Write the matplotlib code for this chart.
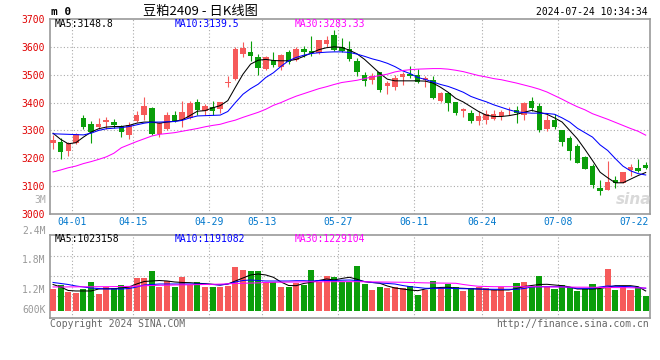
import numpy as np
import matplotlib
matplotlib.use("Agg")
import matplotlib.pyplot as plt
import matplotlib.transforms as mtransforms

# trading days shown on the chart
dates = ['03-28', '03-29',
         '04-01', '04-02', '04-03', '04-08', '04-09', '04-10', '04-11', '04-12',
         '04-15', '04-16', '04-17', '04-18', '04-19', '04-22', '04-23', '04-24', '04-25', '04-26',
         '04-29', '04-30',
         '05-06', '05-07', '05-08', '05-09', '05-10',
         '05-13', '05-14', '05-15', '05-16', '05-17',
         '05-20', '05-21', '05-22', '05-23', '05-24',
         '05-27', '05-28', '05-29', '05-30', '05-31',
         '06-03', '06-04', '06-05', '06-06', '06-07',
         '06-11', '06-12', '06-13', '06-14',
         '06-17', '06-18', '06-19', '06-20', '06-21',
         '06-24', '06-25', '06-26', '06-27', '06-28',
         '07-01', '07-02', '07-03', '07-04', '07-05',
         '07-08', '07-09', '07-10', '07-11', '07-12',
         '07-15', '07-16', '07-17', '07-18', '07-19',
         '07-22', '07-23', '07-24']
tick_labels = ['04-01', '04-15', '04-29', '05-13', '05-27', '06-11', '06-24', '07-08', '07-22']

opens = [3255, 3258, 3226, 3256, 3345, 3324, 3314, 3331, 3332, 3317,
         3282, 3333, 3354, 3381, 3286, 3306, 3354, 3336, 3345, 3401,
         3371, 3383, 3377, 3470, 3485, 3574, 3582, 3564, 3520, 3552,
         3526, 3582, 3552, 3592, 3586, 3577, 3612, 3643, 3598, 3592,
         3550, 3499, 3481, 3508, 3461, 3455, 3491, 3502, 3500, 3481,
         3481, 3405, 3433, 3401, 3369, 3362, 3333, 3336, 3342, 3350,
         3368, 3374, 3354, 3405, 3389, 3306, 3338, 3300, 3273, 3243,
         3205, 3171, 3094, 3086, 3121, 3112, 3157, 3166, 3175]
highs = [3282, 3274, 3258, 3290, 3357, 3333, 3345, 3348, 3340, 3321,
         3330, 3371, 3421, 3385, 3330, 3366, 3369, 3405, 3405, 3412,
         3395, 3407, 3401, 3496, 3598, 3616, 3621, 3576, 3568, 3580,
         3574, 3588, 3600, 3604, 3639, 3625, 3639, 3660, 3631, 3621,
         3560, 3508, 3505, 3508, 3479, 3500, 3508, 3532, 3520, 3496,
         3496, 3437, 3437, 3401, 3381, 3374, 3371, 3374, 3374, 3374,
         3383, 3389, 3401, 3421, 3398, 3354, 3360, 3300, 3279, 3252,
         3207, 3181, 3121, 3189, 3136, 3151, 3181, 3199, 3187]
lows = [3235, 3199, 3207, 3252, 3306, 3255, 3306, 3306, 3310, 3276,
        3270, 3330, 3336, 3282, 3276, 3300, 3330, 3314, 3340, 3354,
        3354, 3354, 3362, 3455, 3481, 3562, 3550, 3500, 3517, 3529,
        3517, 3540, 3550, 3564, 3568, 3574, 3598, 3586, 3580, 3550,
        3496, 3461, 3467, 3437, 3431, 3445, 3464, 3488, 3469, 3455,
        3413, 3401, 3371, 3354, 3350, 3326, 3321, 3324, 3336, 3338,
        3354, 3326, 3338, 3371, 3294, 3298, 3306, 3243, 3195, 3183,
        3160, 3092, 3068, 3086, 3092, 3112, 3136, 3151, 3160]
closes = [3267, 3223, 3255, 3288, 3314, 3294, 3324, 3338, 3318, 3294,
          3321, 3357, 3386, 3288, 3326, 3354, 3333, 3366, 3400, 3374,
          3389, 3371, 3401, 3475, 3594, 3595, 3568, 3523, 3562, 3536,
          3570, 3544, 3594, 3583, 3579, 3625, 3625, 3588, 3586, 3558,
          3508, 3479, 3496, 3446, 3469, 3488, 3502, 3496, 3473, 3487,
          3416, 3433, 3398, 3362, 3377, 3333, 3350, 3360, 3360, 3366,
          3371, 3362, 3398, 3381, 3302, 3338, 3312, 3258, 3226, 3183,
          3163, 3104, 3083, 3116, 3112, 3151, 3167, 3155, 3166]

ma5 = [3290, 3268, 3252, 3256, 3276, 3294, 3306, 3312, 3314, 3314,
       3318, 3326, 3330, 3330, 3326, 3330, 3333, 3338, 3353, 3369,
       3371, 3381, 3389, 3407, 3455, 3502, 3538, 3552, 3555, 3551,
       3550, 3550, 3555, 3566, 3578, 3590, 3597, 3600, 3598, 3588,
       3575, 3555, 3530, 3505, 3484, 3478, 3478, 3478, 3478, 3477,
       3470, 3455, 3437, 3415, 3402, 3385, 3368, 3355, 3350, 3350,
       3353, 3358, 3365, 3372, 3365, 3358, 3345, 3330, 3300, 3270,
       3232, 3192, 3150, 3130, 3112, 3112, 3125, 3138, 3149]
ma10 = [3288, 3287, 3286, 3285, 3284, 3290, 3300, 3306, 3308, 3310,
        3314, 3320, 3326, 3330, 3330, 3331, 3332, 3336, 3345, 3352,
        3353, 3354, 3355, 3368, 3400, 3430, 3450, 3466, 3490, 3507,
        3530, 3550, 3562, 3570, 3576, 3579, 3581, 3582, 3582, 3580,
        3574, 3566, 3557, 3550, 3541, 3529, 3514, 3504, 3490, 3483,
        3474, 3465, 3458, 3448, 3437, 3422, 3412, 3403, 3392, 3383,
        3374, 3367, 3364, 3362, 3362, 3361, 3358, 3345, 3330, 3308,
        3292, 3276, 3248, 3228, 3199, 3172, 3155, 3145, 3140]
ma30 = [3151, 3158, 3166, 3172, 3181, 3188, 3196, 3205, 3218, 3238,
        3249, 3260, 3270, 3280, 3286, 3289, 3292, 3297, 3302, 3307,
        3313, 3318, 3322, 3330, 3337, 3347, 3356, 3365, 3376, 3390,
        3400, 3412, 3423, 3432, 3441, 3450, 3457, 3465, 3472, 3476,
        3480, 3486, 3492, 3497, 3502, 3510, 3515, 3518, 3520, 3521,
        3522, 3522, 3520, 3516, 3511, 3504, 3497, 3492, 3486, 3482,
        3476, 3470, 3463, 3456, 3448, 3438, 3425, 3412, 3398, 3385,
        3374, 3360, 3350, 3340, 3329, 3318, 3307, 3297, 3283]

# volume, thousand lots
volume = [1220, 1301, 1166, 1145, 1220, 1362, 1119, 1267, 1240, 1301,
          1281, 1443, 1443, 1585, 1261, 1382, 1261, 1463, 1301, 1362,
          1261, 1261, 1261, 1281, 1666, 1605, 1585, 1585, 1362, 1362,
          1261, 1261, 1342, 1301, 1605, 1362, 1483, 1463, 1362, 1362,
          1692, 1321, 1200, 1261, 1240, 1261, 1240, 1281, 1099, 1200,
          1382, 1240, 1321, 1261, 1180, 1240, 1261, 1240, 1200, 1261,
          1160, 1342, 1362, 1261, 1483, 1261, 1220, 1301, 1261, 1180,
          1220, 1321, 1220, 1625, 1200, 1261, 1200, 1261, 1079]
vol_ma5 = [1311, 1261, 1190, 1180, 1180, 1180, 1220, 1226, 1226, 1240,
           1261, 1321, 1372, 1382, 1392, 1382, 1362, 1352, 1348, 1336,
           1328, 1315, 1301, 1321, 1382, 1443, 1504, 1524, 1504, 1457,
           1362, 1291, 1287, 1332, 1356, 1392, 1423, 1402, 1433, 1457,
           1417, 1368, 1352, 1336, 1281, 1240, 1220, 1200, 1186, 1220,
           1240, 1251, 1255, 1240, 1234, 1226, 1220, 1210, 1200, 1200,
           1200, 1230, 1271, 1291, 1311, 1315, 1301, 1287, 1261, 1220,
           1220, 1220, 1230, 1255, 1287, 1287, 1287, 1267, 1180]
vol_ma10 = [1352, 1332, 1311, 1281, 1261, 1240, 1230, 1220, 1220, 1220,
            1230, 1261, 1301, 1311, 1321, 1321, 1321, 1321, 1321, 1321,
            1321, 1311, 1301, 1321, 1362, 1392, 1402, 1392, 1382, 1382,
            1382, 1382, 1388, 1388, 1382, 1392, 1392, 1392, 1398, 1402,
            1392, 1372, 1352, 1342, 1332, 1321, 1291, 1267, 1251, 1234,
            1234, 1234, 1234, 1230, 1226, 1224, 1220, 1216, 1214, 1214,
            1214, 1214, 1230, 1261, 1267, 1267, 1267, 1267, 1251, 1234,
            1234, 1234, 1261, 1281, 1275, 1271, 1267, 1251, 1234]
vol_ma30 = [1261, 1261, 1263, 1263, 1265, 1265, 1267, 1267, 1269, 1271,
            1273, 1279, 1285, 1291, 1295, 1297, 1301, 1303, 1305, 1309,
            1311, 1315, 1319, 1325, 1331, 1336, 1340, 1344, 1352, 1356,
            1358, 1360, 1362, 1364, 1366, 1366, 1366, 1368, 1368, 1368,
            1368, 1366, 1364, 1362, 1360, 1358, 1356, 1352, 1348, 1344,
            1342, 1340, 1338, 1336, 1311, 1291, 1275, 1271, 1267, 1267,
            1267, 1267, 1267, 1265, 1265, 1263, 1261, 1261, 1259, 1257,
            1257, 1255, 1253, 1251, 1249, 1247, 1245, 1242, 1240]

price_ticks = [3000, 3100, 3200, 3300, 3400, 3500, 3600, 3700]
vol_ticks = [2400, 1800, 1200, 600]
vol_tick_labels = ['2.4M', '1.8M', '1.2M', '600K']

UP = '#F65A5A'
DOWN = '#0A9E0A'
GRID = '#AAAAAA'
FRAME = '#999999'
MONO = 'DejaVu Sans Mono'
VOL_BASE = 775  # bars start here (thousand lots)

W, H = 660, 360
fig = plt.figure(figsize=(W / 100, H / 100), dpi=100)


def px(x, y):
    return x / W, 1 - y / H


ax = fig.add_axes([50 / W, 1 - 214 / H, 599.5 / W, 195 / H])
axv = fig.add_axes([50 / W, 1 - 318 / H, 599.5 / W, 83.5 / H])

x = np.arange(len(dates))
o, h, l, c = map(np.array, (opens, highs, lows, closes))
colors = [UP if cc >= oo else DOWN for oo, cc in zip(o, c)]

# candles
ax.vlines(x, l, h, colors=colors, lw=0.8, zorder=3)
body = np.maximum(np.abs(c - o), 3)
ax.bar(x, body, bottom=np.minimum(o, c), width=0.72, color=colors, zorder=4, linewidth=0)

ax.plot(x, ma5, color='black', lw=0.75, zorder=5)
ax.plot(x, ma10, color='#0000FF', lw=0.75, zorder=5)
ax.plot(x, ma30, color='#FF00FF', lw=0.75, zorder=5)

ax.set_xlim(-0.4, 78.5)
ax.set_ylim(3000, 3696)

grid_x = [dates.index(d) + 0.5 for d in tick_labels]
for g in grid_x[:-1]:
    ax.axvline(g, color=GRID, lw=0.8, ls=(0, (1, 2)), zorder=1)
    axv.axvline(g, color=GRID, lw=0.8, ls=(0, (1, 2)), zorder=1)
for p in price_ticks[1:-1]:
    ax.axhline(p, color=GRID, lw=0.8, ls=(0, (1, 2)), zorder=1)

ax.set_yticks(price_ticks)
ax.set_yticklabels([str(p) for p in price_ticks], color='#E00000', fontsize=7, family=MONO)
ax.tick_params(axis='y', length=0, pad=4)
ax.set_xticks(grid_x)
ax.set_xticklabels(tick_labels, color='#0077CC', fontsize=7, family=MONO)
ax.tick_params(axis='x', length=0, pad=2)
ax.text(-0.007, 3050, '3M', transform=mtransforms.blended_transform_factory(ax.transAxes, ax.transData),
        ha='right', va='center', fontsize=7, family=MONO, color='#AAAAAA')

# volume
vol = np.array(volume)
axv.bar(x, vol - VOL_BASE, bottom=VOL_BASE, width=0.8, color=colors, linewidth=0, zorder=3)
axv.plot(x, vol_ma5, color='black', lw=0.75, zorder=4)
axv.plot(x, vol_ma10, color='#0000FF', lw=0.75, zorder=4)
axv.plot(x, vol_ma30, color='#FF00FF', lw=0.75, zorder=4)
axv.set_xlim(-0.4, 78.5)
axv.set_ylim(633, 2323)
axv.set_xticks([])
axv.set_yticks([])
for f in (0.743, 0.503, 0.263):
    axv.plot([0, 1], [f, f], transform=axv.transAxes, color=GRID, lw=0.8, ls=(0, (1, 2)), zorder=1)
vtrans = mtransforms.blended_transform_factory(axv.transAxes, axv.transData)
for v, lab in zip(vol_ticks, vol_tick_labels):
    axv.text(-0.007, max(v, VOL_BASE + 20), lab, transform=vtrans, ha='right', va='center',
             fontsize=7, family=MONO, color='#999999', clip_on=False)

for a in (ax, axv):
    for s in a.spines.values():
        s.set_color(FRAME)
        s.set_linewidth(1.2)

# legends
ax.text(*px(55, 24), 'MA5:3148.8', transform=fig.transFigure, fontsize=7, family=MONO, color='black', va='center')
ax.text(*px(175, 24), 'MA10:3139.5', transform=fig.transFigure, fontsize=7, family=MONO, color='#0000FF', va='center')
ax.text(*px(295, 24), 'MA30:3283.33', transform=fig.transFigure, fontsize=7, family=MONO, color='#FF00FF', va='center')
axv.text(*px(55, 239), 'MA5:1023158', transform=fig.transFigure, fontsize=7, family=MONO, color='black', va='center')
axv.text(*px(175, 239), 'MA10:1191082', transform=fig.transFigure, fontsize=7, family=MONO, color='#0000FF', va='center')
axv.text(*px(295, 239), 'MA30:1229104', transform=fig.transFigure, fontsize=7, family=MONO, color='#FF00FF', va='center')

# header / footer
fig.text(*px(51, 12), 'm 0', fontsize=8, family=MONO, weight='bold', va='center')
fig.text(*px(200, 11), '豆粕2409 - 日K线图', fontsize=9.5, family=['Noto Sans CJK SC', 'DejaVu Sans'],
         ha='center', va='center')
fig.text(*px(648, 12), '2024-07-24 10:34:34', fontsize=7, family=MONO, ha='right', va='center')
fig.text(*px(50, 324), 'Copyright 2024 SINA.COM', fontsize=7, family=MONO, color='#666666', va='center')
fig.text(*px(649, 324), 'http://finance.sina.com.cn', fontsize=7, family=MONO, color='#666666', ha='right', va='center')
fig.text(*px(634, 200), 'sina', fontsize=11, style='italic', weight='bold', color='#D9D9D9', ha='center', va='center')

fig.savefig('out.png', dpi=100, facecolor='white')
